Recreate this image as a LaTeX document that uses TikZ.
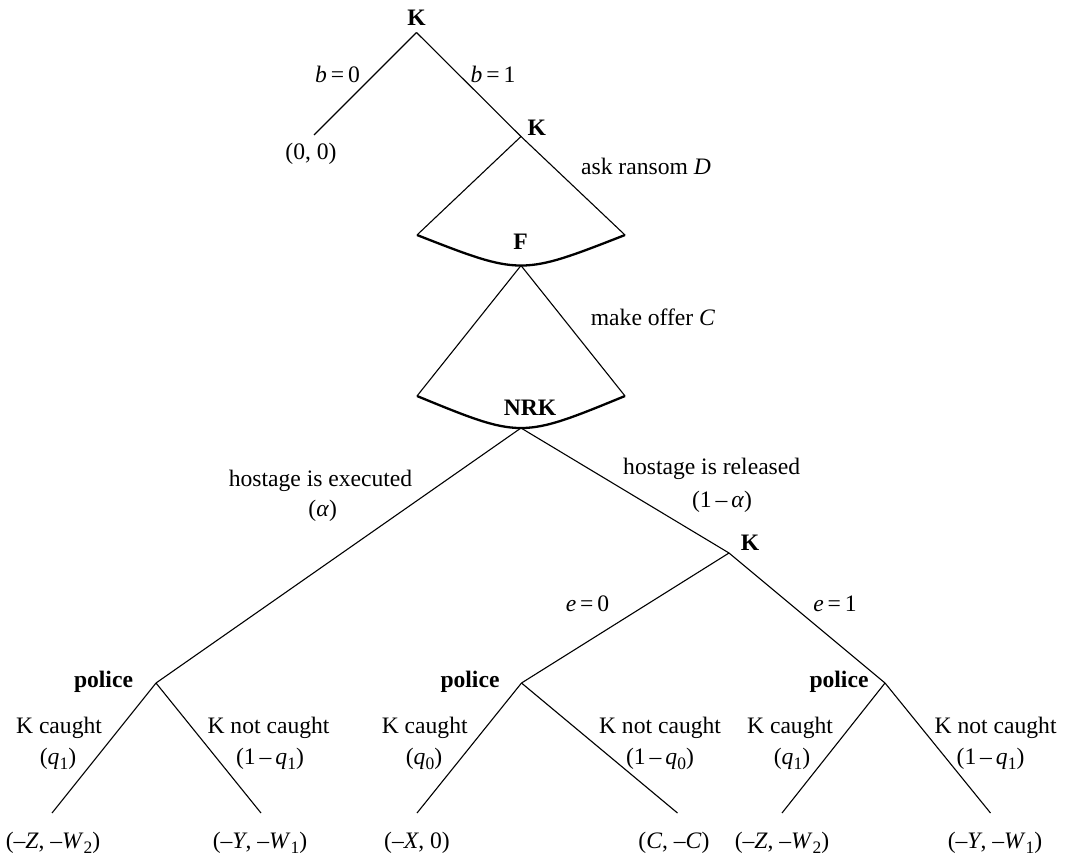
\documentclass[tikz,border=0pt]{standalone}
\usepackage{fontspec}
\setmainfont{Liberation Serif}
\newcommand{\fs}{\fontsize{23.6}{28}\selectfont}
\newcommand{\vi}[1]{\textit{#1}}
\newcommand{\sbs}[1]{\raisebox{-5.5pt}{\fontsize{17.5}{17.5}\selectfont #1}}
\tikzset{
  br/.style={line width=1.1pt},
  fanarc/.style={line width=2.3pt},
  lab/.style={anchor=base, inner sep=0pt, font=\fs},
  plr/.style={anchor=base, inner sep=0pt, font=\fs\bfseries},
}
\begin{document}
\begin{tikzpicture}[x=1pt,y=-1pt]
\useasboundingbox (0,0) rectangle (1065,857);
% tree points
\coordinate (root) at (416.5,32.5);
\coordinate (z00) at (314,135);
\coordinate (k2) at (521,136.5);
\coordinate (fL1) at (417,235);
\coordinate (fR1) at (625,235);
\coordinate (c1) at (521,275.7);
\coordinate (f) at (521,265.5);
\coordinate (fL2) at (417,396);
\coordinate (fR2) at (625,396);
\coordinate (c2) at (521,438.7);
\coordinate (nrk) at (521,428);
\coordinate (p1) at (156,683);
\coordinate (k3) at (729,553);
\coordinate (p2) at (521.5,683);
\coordinate (p3) at (885,683);
\coordinate (l1) at (52,813);
\coordinate (l2) at (261,813);
\coordinate (l3) at (417,813);
\coordinate (l4) at (677.5,813);
\coordinate (l5) at (782,813);
\coordinate (l6) at (990.5,813);
% branches
\draw[br] (root) -- (z00);
\draw[br] (root) -- (k2);
\draw[br] (k2) -- (fL1);
\draw[br] (k2) -- (fR1);
\draw[fanarc] (fL1) .. controls (c1) .. (fR1);
\draw[br] (f) -- (fL2);
\draw[br] (f) -- (fR2);
\draw[fanarc] (fL2) .. controls (c2) .. (fR2);
\draw[br] (nrk) -- (p1);
\draw[br] (nrk) -- (k3);
\draw[br] (k3) -- (p2);
\draw[br] (k3) -- (p3);
\draw[br] (p1) -- (l1);
\draw[br] (p1) -- (l2);
\draw[br] (p2) -- (l3);
\draw[br] (p2) -- (l4);
\draw[br] (p3) -- (l5);
\draw[br] (p3) -- (l6);
% player labels
\node[plr] (tK1) at (416.5,25) {K};
\node[plr] (tK2) at (536.7,135) {K};
\node[plr] (tF) at (520.7,249) {F};
\node[plr] (tNRK) at (530,415.7) {NRK};
\node[plr] (tK3) at (750,550.7) {K};
\node[plr] (tP1) at (103.5,687) {police};
\node[plr] (tP2) at (470,687) {police};
\node[plr] (tP3) at (839,687) {police};
% action labels
\node[lab] (b0) at (337.5,82) {\vi{b}\,=\,0};
\node[lab] (b1) at (493,82) {\vi{b}\,=\,1};
\node[lab] (o00) at (311,159) {(0, 0)};
\node[lab] (ask) at (646,174) {ask ransom \vi{D}};
\node[lab] (off) at (653,325) {make offer \vi{C}};
\node[lab] (hx) at (320.5,486) {hostage is executed};
\node[lab] (hxa) at (322.7,516) {(\vi{α})};
\node[lab] (hr) at (711.7,474) {hostage is released};
\node[lab] (hra) at (722,507) {(1\,--\,\vi{α})};
\node[lab] (e0) at (587.5,611.7) {\vi{e}\,=\,0};
\node[lab] (e1) at (835,611.7) {\vi{e}\,=\,1};
% police branch labels
\node[lab] (kc1) at (59,733) {K caught};
\node[lab] (kn1) at (268.5,733) {K not caught};
\node[lab] (kc2) at (424.7,733) {K caught};
\node[lab] (kn2) at (660,733) {K not caught};
\node[lab] (kc3) at (790,733) {K caught};
\node[lab] (kn3) at (995.6,733) {K not caught};
\node[lab] (pc1) at (58,764) {(\vi{q}\sbs{1})};
\node[lab] (pn1) at (270,764) {(1\,--\,\vi{q}\sbs{1})};
\node[lab] (pc2) at (424,764) {(\vi{q}\sbs{0})};
\node[lab] (pn2) at (660,764) {(1\,--\,\vi{q}\sbs{0})};
\node[lab] (pc3) at (792,764) {(\vi{q}\sbs{1})};
\node[lab] (pn3) at (990.5,764) {(1\,--\,\vi{q}\sbs{1})};
% payoffs
\node[lab] (y1) at (53,848) {(--\vi{Z}, --\vi{W}\sbs{2})};
\node[lab] (y2) at (260,848) {(--\vi{Y}, --\vi{W}\sbs{1})};
\node[lab] (y3) at (417,848) {(--\vi{X}, 0)};
\node[lab] (y4) at (674,848) {(\vi{C}, --\vi{C})};
\node[lab] (y5) at (782,848) {(--\vi{Z}, --\vi{W}\sbs{2})};
\node[lab] (y6) at (995,848) {(--\vi{Y}, --\vi{W}\sbs{1})};
\end{tikzpicture}
\end{document}
